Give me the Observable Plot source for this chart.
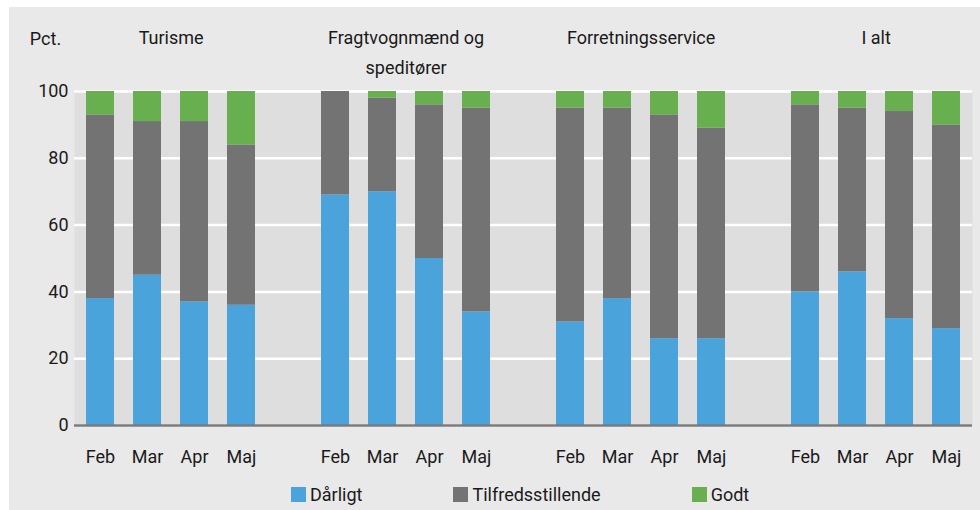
<!DOCTYPE html>
<html>
<head>
<meta charset="utf-8">
<script src="https://cdn.jsdelivr.net/npm/d3@7"></script>
<script src="https://cdn.jsdelivr.net/npm/@observablehq/plot@0.6"></script>
<style>
  html, body { margin: 0; padding: 0; background: #ffffff; }
  #wrap { position: absolute; left: 9px; top: 7px; width: 971px; height: 503px; background: #e9e9e9; font-family: Roboto, sans-serif; color: #1a1a1a; }
  #legend { display: flex; align-items: center; gap: 91px; padding-left: 282px; height: 31px; font-size: 18px; }
  .item { display: flex; align-items: center; gap: 4px; }
  .sw { width: 15px; height: 15px; display: inline-block; }
</style>
</head>
<body>
<div id="wrap"><div id="chart"></div><div id="legend"></div></div>
<script>
const groups = ["Turisme", "Fragtvognmænd og\nspeditører", "Forretningsservice", "I alt"];
const months = ["Feb", "Mar", "Apr", "Maj"];
const seriesNames = ["Dårligt", "Tilfredsstillende", "Godt"];
const seriesColors = ["#4ba3dc", "#737373", "#68b04f"];
// values per group, per month (Feb, Mar, Apr, Maj)
const darligt = [
  [38, 45, 37, 36],
  [69, 70, 50, 34],
  [31, 38, 26, 26],
  [40, 46, 32, 29]
];
const tilfreds = [
  [55, 46, 54, 48],
  [31, 28, 46, 61],
  [64, 57, 67, 63],
  [56, 49, 62, 61]
];
const godt = [
  [7, 9, 9, 16],
  [0, 2, 4, 5],
  [5, 5, 7, 11],
  [4, 5, 6, 10]
];
const yTicks = [0, 20, 40, 60, 80, 100];

const seriesValues = [darligt, tilfreds, godt];
const slots = [];
groups.forEach((g, gi) => {
  months.forEach((m, mi) => slots.push(`${gi}-${mi}`));
  if (gi < groups.length - 1) slots.push(`gap${gi}`);
});
const data = [];
groups.forEach((g, gi) => {
  months.forEach((m, mi) => {
    seriesNames.forEach((s, si) => {
      data.push({slot: `${gi}-${mi}`, series: s, value: seriesValues[si][gi][mi]});
    });
  });
});
const titles = groups.map((g, gi) => ({label: g, slot: `${gi}-1`}));

const W = 971, H = 472, mL = 65, mR = 8, mT = 84, mB = 54;
const step = (W - mL - mR) / slots.length;

const chart = Plot.plot({
  width: W, height: H,
  marginLeft: mL, marginRight: mR, marginTop: mT, marginBottom: mB,
  style: {fontFamily: "Roboto, sans-serif", fontSize: "18px", color: "#1a1a1a", background: "transparent", overflow: "visible"},
  x: {domain: slots, paddingInner: 0.4, paddingOuter: 0.2, label: null},
  y: {domain: [0, 100], label: null},
  color: {domain: seriesNames, range: seriesColors},
  marks: [
    Plot.frame({fill: "#dedede", stroke: null}),
    Plot.gridY(yTicks, {stroke: "#ffffff", strokeOpacity: 1, strokeWidth: 2.5}),
    Plot.barY(data, {x: "slot", y: "value", fill: "series", order: seriesNames}),
    Plot.ruleY([0], {stroke: "#7a7a7a", strokeWidth: 2.5}),
    Plot.axisY(yTicks, {tickSize: 0, tickPadding: 6, fontSize: 18, label: null}),
    Plot.axisX({tickSize: 0, tickPadding: 25, fontSize: 18, label: null,
      tickFormat: d => d.startsWith("gap") ? "" : months[+d.split("-")[1]]}),
    Plot.text(titles, {x: "slot", text: "label", frameAnchor: "top", dx: step / 2, dy: -69, lineAnchor: "top", lineHeight: 1.67, fontSize: 18, fill: "#1a1a1a"}),
    Plot.text(["Pct."], {frameAnchor: "top-left", dx: -29, dy: -59, lineAnchor: "top", textAnchor: "middle", fontSize: 18, fill: "#1a1a1a"})
  ]
});
document.getElementById("chart").appendChild(chart);

const legend = document.getElementById("legend");
seriesNames.forEach((s, i) => {
  const it = document.createElement("div");
  it.className = "item";
  const sw = document.createElement("span");
  sw.className = "sw";
  sw.style.background = seriesColors[i];
  const lb = document.createElement("span");
  lb.textContent = s;
  it.appendChild(sw); it.appendChild(lb);
  legend.appendChild(it);
});
</script>
</body>
</html>
